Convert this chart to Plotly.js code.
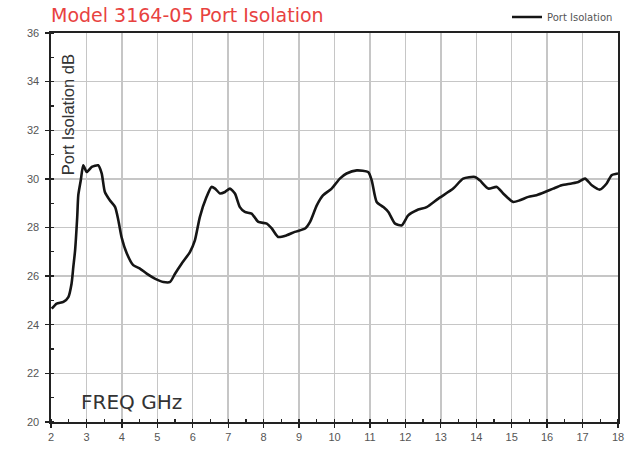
<!DOCTYPE html>
<html>
<head>
<meta charset="utf-8">
<script src="https://cdn.plot.ly/plotly-3.0.1.min.js"></script>
<style>
  html, body { margin: 0; padding: 0; background: #fff; }
  #chart { width: 635px; height: 449px; }
</style>
</head>
<body>
<div id="chart"></div>
<script>
const freqGHz = [2.02, 2.16, 2.35, 2.49, 2.58, 2.63, 2.68, 2.74, 2.77, 2.84,
  2.91, 3.01, 3.15, 3.33, 3.43, 3.52, 3.66, 3.81, 3.90, 3.99,
  4.14, 4.32, 4.51, 4.70, 4.93, 5.17, 5.36, 5.50, 5.69, 5.92,
  6.06, 6.20, 6.39, 6.53, 6.63, 6.77, 6.91, 7.05, 7.19, 7.33,
  7.47, 7.66, 7.85, 8.09, 8.23, 8.41, 8.65, 8.88, 9.17, 9.31,
  9.50, 9.68, 9.92, 10.15, 10.34, 10.63, 10.95, 11.05, 11.19, 11.38,
  11.52, 11.71, 11.90, 12.08, 12.32, 12.60, 12.93, 13.35, 13.63, 13.96,
  14.10, 14.34, 14.58, 14.76, 15.04, 15.23, 15.47, 15.70, 15.94, 16.17,
  16.41, 16.69, 16.88, 17.07, 17.26, 17.49, 17.68, 17.82, 18.0];
const portIsolation = [24.66, 24.87, 24.94, 25.14, 25.69, 26.38, 27.06, 28.43, 29.33, 29.94,
  30.56, 30.28, 30.49, 30.56, 30.23, 29.46, 29.12, 28.84, 28.3, 27.61,
  26.93, 26.45, 26.31, 26.1, 25.9, 25.76, 25.76, 26.1, 26.52, 26.99,
  27.47, 28.43, 29.26, 29.67, 29.6, 29.4, 29.46, 29.6, 29.4, 28.84,
  28.64, 28.57, 28.23, 28.16, 27.96, 27.61, 27.68, 27.82, 27.96, 28.23,
  28.91, 29.33, 29.6, 30.01, 30.22, 30.35, 30.28, 29.94, 29.05, 28.84,
  28.64, 28.16, 28.09, 28.5, 28.71, 28.84, 29.19, 29.6, 30.01, 30.08,
  29.94, 29.6, 29.67, 29.4, 29.05, 29.12, 29.26, 29.33, 29.46, 29.6,
  29.74, 29.81, 29.87, 30.01, 29.74, 29.56, 29.81, 30.15, 30.22];
const xTickVals = [2, 3, 4, 5, 6, 7, 8, 9, 10, 11, 12, 13, 14, 15, 16, 17, 18];
const yTickVals = [20, 22, 24, 26, 28, 30, 32, 34, 36];
const seriesName = "Port Isolation";
const chartTitle = "Model 3164-05 Port Isolation";
const yLabel = "Port Isolation dB";
const xLabel = "FREQ GHz";

const font = "Liberation Sans, Arial, sans-serif";
const wide = "DejaVu Sans, Verdana, sans-serif";

const trace = {
  x: freqGHz, y: portIsolation, type: "scatter", mode: "lines",
  name: seriesName,
  line: { color: "#151515", width: 2.6, shape: "spline", smoothing: 0.6 }
};

const layout = {
  width: 635, height: 449,
  margin: { l: 51, r: 17, t: 33, b: 27, pad: 0, autoexpand: false },
  paper_bgcolor: "#fff", plot_bgcolor: "#fff",
  font: { family: font, color: "#444" },
  showlegend: true,
  legend: {
    x: 1, y: 1.041, xanchor: "right", yanchor: "middle", xref: "paper", yref: "paper",
    font: { size: 10, color: "#555", family: wide },
    bgcolor: "rgba(0,0,0,0)", borderwidth: 0, tracegroupgap: 0,
    itemwidth: 30
  },
  xaxis: {
    range: [2, 18], tickvals: xTickVals, ticktext: xTickVals.map(String),
    showgrid: true, gridcolor: "#c6c6c6", gridwidth: 1.4,
    showline: true, linecolor: "#222", linewidth: 1.6, mirror: true,
    ticks: "outside", ticklen: 4, tickwidth: 1.3, tickcolor: "#222",
    minor: { dtick: 0.5, tick0: 2, ticks: "inside", ticklen: 3, tickwidth: 1.3, tickcolor: "#222", showgrid: false },
    tickfont: { size: 11, color: "#555", family: font },
    zeroline: false, fixedrange: true, automargin: false
  },
  yaxis: {
    range: [20, 36], tickvals: yTickVals, ticktext: yTickVals.map(String),
    showgrid: true, gridcolor: "#c6c6c6", gridwidth: 1.4,
    showline: true, linecolor: "#222", linewidth: 1.6, mirror: true,
    ticks: "outside", ticklen: 4, tickwidth: 1.3, tickcolor: "#222",
    minor: { dtick: 1, tick0: 20, ticks: "inside", ticklen: 3, tickwidth: 1.3, tickcolor: "#222", showgrid: false },
    tickfont: { size: 11, color: "#555", family: font },
    ticklabelstandoff: 4,
    zeroline: false, fixedrange: true, automargin: false
  },
  annotations: [
    { text: chartTitle, xref: "paper", yref: "paper", x: 0, y: 1, xanchor: "left", yanchor: "bottom",
      xshift: -2, yshift: 5, showarrow: false, font: { size: 19, color: "#e8423f", family: wide } },
    { text: yLabel, xref: "paper", yref: "paper", x: 0.029, y: 0.79, xanchor: "center", yanchor: "middle",
      textangle: -90, showarrow: false, font: { size: 16.5, color: "#333", family: font } },
    { text: xLabel, xref: "paper", yref: "paper", x: 0.05, y: 0.052, xanchor: "left", yanchor: "middle",
      showarrow: false, font: { size: 20, color: "#333", family: wide } }
  ]
};

Plotly.newPlot("chart", [trace], layout, { displayModeBar: false, staticPlot: true });
</script>
</body>
</html>
